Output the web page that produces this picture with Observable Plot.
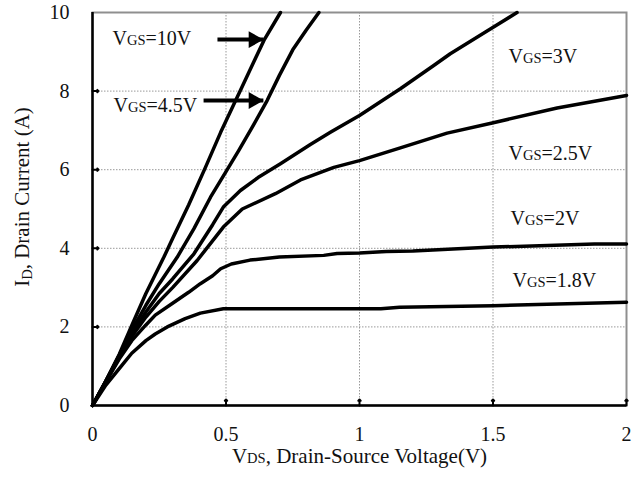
<!DOCTYPE html>
<html>
<head>
<meta charset="utf-8">
<script src="https://cdn.jsdelivr.net/npm/d3@7"></script>
<script src="https://cdn.jsdelivr.net/npm/@observablehq/plot@0.6"></script>
<style>
  html, body { margin: 0; padding: 0; background: #fff; }
  #chart svg { display: block; }
  #chart svg text { font-family: 'Liberation Serif', 'DejaVu Serif', serif; }
</style>
</head>
<body>
<div id="chart"></div>
<script>
// Output characteristics: drain current vs drain-source voltage for several gate voltages.
const seriesNames = ["VGS=10V", "VGS=4.5V", "VGS=3V", "VGS=2.5V", "VGS=2V", "VGS=1.8V"];

const vgs10 = [[0,0],[0.05,0.62],[0.1,1.3],[0.15,2.08],[0.2,2.85],[0.267,3.77],[0.3,4.25],[0.36,5.1],[0.423,6.06],[0.48,6.95],[0.536,7.76],[0.556,8.05],[0.642,9.29],[0.704,10.0]];
const vgs45 = [[0,0],[0.05,0.62],[0.1,1.28],[0.15,1.95],[0.2,2.55],[0.25,3.1],[0.317,3.77],[0.38,4.5],[0.442,5.3],[0.5,5.95],[0.548,6.49],[0.6,7.1],[0.654,7.76],[0.7,8.4],[0.75,9.05],[0.8,9.55],[0.848,10.0]];
const vgs3 = [[0,0],[0.05,0.62],[0.1,1.25],[0.15,1.85],[0.2,2.38],[0.25,2.85],[0.3,3.22],[0.38,3.86],[0.45,4.6],[0.49,5.05],[0.554,5.47],[0.62,5.8],[0.704,6.15],[0.816,6.64],[0.891,6.95],[1.0,7.38],[1.153,8.06],[1.278,8.65],[1.34,8.95],[1.49,9.58],[1.59,10.0]];
const vgs25 = [[0,0],[0.05,0.61],[0.1,1.22],[0.15,1.78],[0.2,2.25],[0.25,2.65],[0.3,3.0],[0.392,3.69],[0.49,4.54],[0.561,5.0],[0.685,5.39],[0.779,5.74],[0.904,6.06],[1.0,6.23],[1.15,6.55],[1.328,6.93],[1.497,7.19],[1.74,7.57],[2.0,7.89]];
const vgs2 = [[0,0],[0.05,0.6],[0.1,1.18],[0.147,1.65],[0.2,2.05],[0.235,2.3],[0.3,2.6],[0.36,2.88],[0.404,3.1],[0.45,3.3],[0.48,3.48],[0.52,3.6],[0.59,3.7],[0.7,3.78],[0.866,3.82],[0.916,3.87],[1.0,3.88],[1.1,3.92],[1.2,3.93],[1.5,4.03],[1.88,4.11],[2.0,4.11]];
const vgs18 = [[0,0],[0.05,0.52],[0.11,1.02],[0.147,1.33],[0.2,1.65],[0.235,1.82],[0.28,2.0],[0.347,2.21],[0.404,2.35],[0.49,2.46],[1.08,2.46],[1.15,2.5],[1.5,2.54],[2.0,2.63]];
const seriesValues = [vgs10, vgs45, vgs3, vgs25, vgs2, vgs18];

// Curve labels (left edge of text, vertical centre) in volts / amperes
const labelV = [0.075, 0.079, 1.558, 1.558, 1.566, 1.573];
const labelI = [9.33, 7.62, 8.89, 6.40, 4.76, 3.19];

// Pointer arrows for the two steep curves
const arrowStartV = [0.468, 0.416];
const arrowEndV = [0.640, 0.640];
const arrowI = [9.31, 7.76];

const xTicks = [0, 0.5, 1, 1.5, 2];
const xTickLabels = ["0", "0.5", "1", "1.5", "2"];
const yTicks = [0, 2, 4, 6, 8, 10];
const yTickLabels = ["0", "2", "4", "6", "8", "10"];
const xGrid = [0.5, 1, 1.5];
const yGrid = [2, 4, 6, 8];
const xInnerTicks = [0.5, 1, 1.5, 2];
const yInnerTicks = [2, 4, 6, 8];
const xTitle = "VDS, Drain-Source Voltage(V)";
const yTitle = "ID, Drain Current (A)";

const points = seriesValues.flatMap((s, k) => s.map(([v, i]) => ({series: seriesNames[k], v, i})));
const labels = seriesNames.map((name, k) => ({name, v: labelV[k], i: labelI[k]}));
const arrows = arrowI.map((i, k) => ({v1: arrowStartV[k], v2: arrowEndV[k], i}));

const serif = "'Liberation Serif', 'DejaVu Serif', serif";

const chart = Plot.plot({
  width: 632,
  height: 477,
  marginLeft: 92,
  marginRight: 6,
  marginTop: 12,
  marginBottom: 72,
  style: {fontFamily: serif, fontSize: "20px", color: "#000", background: "#fff"},
  x: {domain: [0, 2], axis: null},
  y: {domain: [0, 10], axis: null},
  marks: [
    Plot.ruleX(xGrid, {stroke: "#999", strokeWidth: 1, strokeDasharray: "1.5,1.5"}),
    Plot.ruleY(yGrid, {stroke: "#999", strokeWidth: 1, strokeDasharray: "1.5,1.5"}),
    Plot.frame({stroke: "#8f8f8f", strokeWidth: 2}),
    Plot.ruleX([0], {stroke: "#000", strokeWidth: 2.5}),
    Plot.ruleY([0], {stroke: "#000", strokeWidth: 2.5}),
    Plot.vector(xInnerTicks, {x: d => d, y: 0, length: 6, rotate: 0, anchor: "start", stroke: "#000", strokeWidth: 2}),
    Plot.vector(yInnerTicks, {x: 0, y: d => d, length: 6, rotate: 90, anchor: "start", stroke: "#000", strokeWidth: 2}),
    // Tick labels
    Plot.text(xTicks, {x: d => d, frameAnchor: "bottom", dy: 29.5, text: (d, i) => xTickLabels[i], textAnchor: "middle", lineAnchor: "middle", fill: "#111", fontFamily: serif, fontSize: 20}),
    Plot.text(yTicks, {y: d => d, frameAnchor: "left", dx: -23, text: (d, i) => yTickLabels[i], textAnchor: "end", lineAnchor: "middle", fill: "#111", fontFamily: serif, fontSize: 20}),
    Plot.line(points, {x: "v", y: "i", z: "series", stroke: "#000", strokeWidth: 3.5, strokeLinejoin: "round", strokeLinecap: "round"}),
    Plot.link(arrows, {x1: "v1", x2: "v2", y1: "i", y2: "i", stroke: "#000", strokeWidth: 4, insetRight: 12}),
    Plot.dot(arrows, {x: "v2", y: "i", symbol: "triangle", rotate: 90, r: 6.3, dx: -9.8, fill: "#000", stroke: "none"}),
    Plot.text(labels, {x: "v", y: "i", text: "name", textAnchor: "start", lineAnchor: "middle", fill: "#111", fontFamily: serif, fontSize: 20}),
    Plot.text([xTitle], {frameAnchor: "bottom", dy: 50.5, text: d => d, textAnchor: "middle", lineAnchor: "middle", fill: "#111", fontFamily: serif, fontSize: 21}),
    Plot.text([yTitle], {frameAnchor: "left", dx: -70, dy: -12, rotate: -90, text: d => d, textAnchor: "middle", lineAnchor: "middle", fill: "#111", fontFamily: serif, fontSize: 21})
  ]
});

// Render the subscript parts of V_GS, V_DS and I_D in a smaller size
d3.select(chart).selectAll("text").each(function() {
  const s = this.textContent;
  const m = s.match(/^([VI])(GS|DS|D)(.*)$/);
  if (!m) return;
  const t = d3.select(this);
  t.text(null);
  const lowered = m[1] === "I" ? 3 : 0;
  t.append("tspan").text(m[1]);
  t.append("tspan").attr("font-size", "14.5px").attr("dy", lowered).text(m[2]);
  t.append("tspan").attr("dy", -lowered).text(m[3]);
});

document.getElementById("chart").append(chart);
</script>
</body>
</html>
